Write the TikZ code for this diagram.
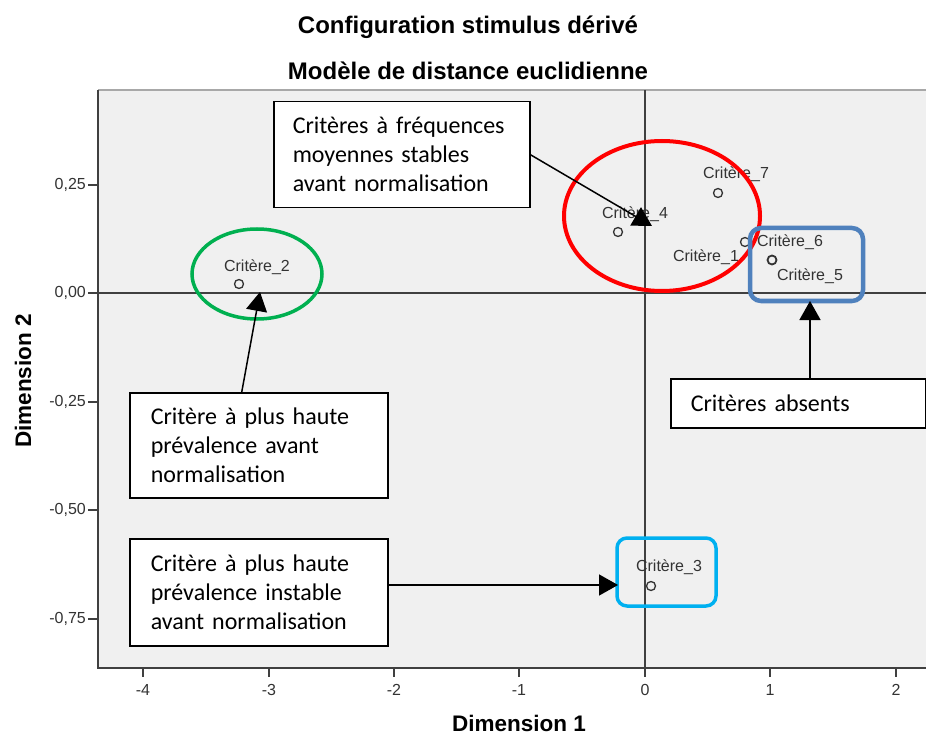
\documentclass[tikz,border=0pt]{standalone}
\usepackage{fontspec}
\setmainfont{Liberation Sans}
\newfontfamily\calibri{Carlito}
\usetikzlibrary{arrows.meta}
\definecolor{plotbg}{HTML}{F0F0F0}
\definecolor{axisgray}{HTML}{404040}
\definecolor{topgray}{HTML}{A8A8A8}
\definecolor{ptgray}{HTML}{333333}
\definecolor{grn}{HTML}{00B050}
\definecolor{rd}{HTML}{FF0000}
\definecolor{blu}{HTML}{4F81BD}
\definecolor{cyn}{HTML}{00B0F0}
\tikzset{
  titlefont/.style={font=\bfseries\fontsize{24}{28}\selectfont, anchor=base, inner sep=0pt},
  dimfont/.style={font=\bfseries\fontsize{22.5}{26}\selectfont, inner sep=0pt},
  ticklab/.style={font=\fontsize{16}{18}\selectfont, text=ptgray, inner sep=0pt},
  ptlab/.style={font=\fontsize{16}{18}\selectfont, text=ptgray, inner sep=0pt},
  pt/.style={circle, draw=ptgray, line width=1.3pt, minimum size=9pt, inner sep=0pt},
  tbox/.style={draw=black, fill=white, line width=1.5pt, anchor=north west,
    font=\calibri\fontsize{24}{29}\selectfont, align=left, inner ysep=0pt},
  arr/.style={line width=1.5pt, -{Triangle[length=19pt,width=21pt]}},
  tick/.style={line width=1.5pt, draw=axisgray}
}
\begin{document}
\begin{tikzpicture}[x=1pt,y=-1pt]
\useasboundingbox (0,0) rectangle (926,735);
% titles
\node[titlefont] (t1) at (468,34) {Configuration stimulus dérivé};
\node[titlefont] (t2) at (468,80) {Modèle de distance euclidienne};
% plot area
\fill[plotbg] (98,90) rectangle (930,668);
\draw[topgray, line width=1.5pt] (98,90) -- (930,90);
\draw[axisgray, line width=1.8pt] (98,90) -- (98,668) -- (930,668);
% zero axes
\draw[axisgray, line width=1.6pt] (645,90) -- (645,668);
\draw[axisgray, line width=1.6pt] (98,293) -- (930,293);
% x ticks
\foreach \xv/\lab/\nm in {143/-4/xa,269/-3/xb,394/-2/xc,519/-1/xd,645/0/xe,770/1/xf,896/2/xg}{
  \draw[tick] (\xv,668) -- (\xv,677);
  \node[ticklab] (\nm) at (\xv,690) {\lab};
}
% y ticks
\foreach \yv/\lab/\nm in {185/{0,25}/ya,293/{0,00}/yb,402/{-0,25}/yc,510/{-0,50}/yd,619/{-0,75}/ye}{
  \draw[tick] (88,\yv) -- (98,\yv);
  \node[ticklab, anchor=east] (\nm) at (86,\yv) {\lab};
}
% axis titles
\node[dimfont] (d1) at (519,723) {Dimension 1};
\node[dimfont, rotate=90] (d2) at (23,381) {Dimension 2};
% points
\node[pt] (p2) at (239,284) {};
\node[pt] (p4) at (618,232) {};
\node[pt] (p7) at (718,193) {};
\node[pt] (p1) at (745,242) {};
\node[pt, line width=1.8pt] (p5) at (772,260) {};
\node[pt] (p3) at (651,586) {};
\node[ptlab] (l2) at (257,267) {Critère\_2};
\node[ptlab] (l4) at (635,214) {Critère\_4};
\node[ptlab] (l7) at (736,174) {Critère\_7};
\node[ptlab] (l1) at (706,257) {Critère\_1};
\node[ptlab, fill=plotbg] (l6) at (790,242) {Critère\_6};
\node[ptlab] (l5) at (810,276) {Critère\_5};
\node[ptlab] (l3) at (669,567) {Critère\_3};
% highlight shapes
\draw[grn, line width=3.5pt] (257,274) ellipse [x radius=65pt, y radius=45pt];
\draw[rd, line width=4pt] (662,216) ellipse [x radius=98pt, y radius=75pt];
\draw[blu, line width=4.5pt, rounded corners=11pt] (750,228) rectangle (863,301);
\draw[cyn, line width=3.5pt, rounded corners=10pt] (617,538) rectangle (716,606);
% text boxes
\node[tbox, minimum width=256pt, minimum height=106pt, inner xsep=19pt, text width=218pt] (bA) at (273,101)
  {Critères à fréquences\\moyennes stables\\avant normalisation};
\node[tbox, minimum width=258pt, minimum height=105pt, inner xsep=21pt, text width=216pt] (bB) at (129,392)
  {Critère à plus haute\\prévalence avant\\normalisation};
\node[tbox, minimum width=258pt, minimum height=107pt, inner xsep=21pt, text width=216pt] (bC) at (129,538)
  {Critère à plus haute\\prévalence instable\\avant normalisation};
\node[tbox, minimum width=255pt, minimum height=49pt, inner xsep=20pt, text width=215pt] (bD) at (670,378)
  {Critères absents};
% arrow tips
\coordinate (tA) at (652,226);
\coordinate (tB) at (260,292);
\coordinate (tC) at (618,585);
\coordinate (tD) at (810,301);
% arrows
\draw[arr] (bA.east) -- (tA);
\draw[arr] ([xshift=-17pt]bB.north) -- (tB);
\draw[arr] (bC.east |- tC) -- (tC);
\draw[arr] (bD.north -| tD) -- (tD);
\end{tikzpicture}
\end{document}
